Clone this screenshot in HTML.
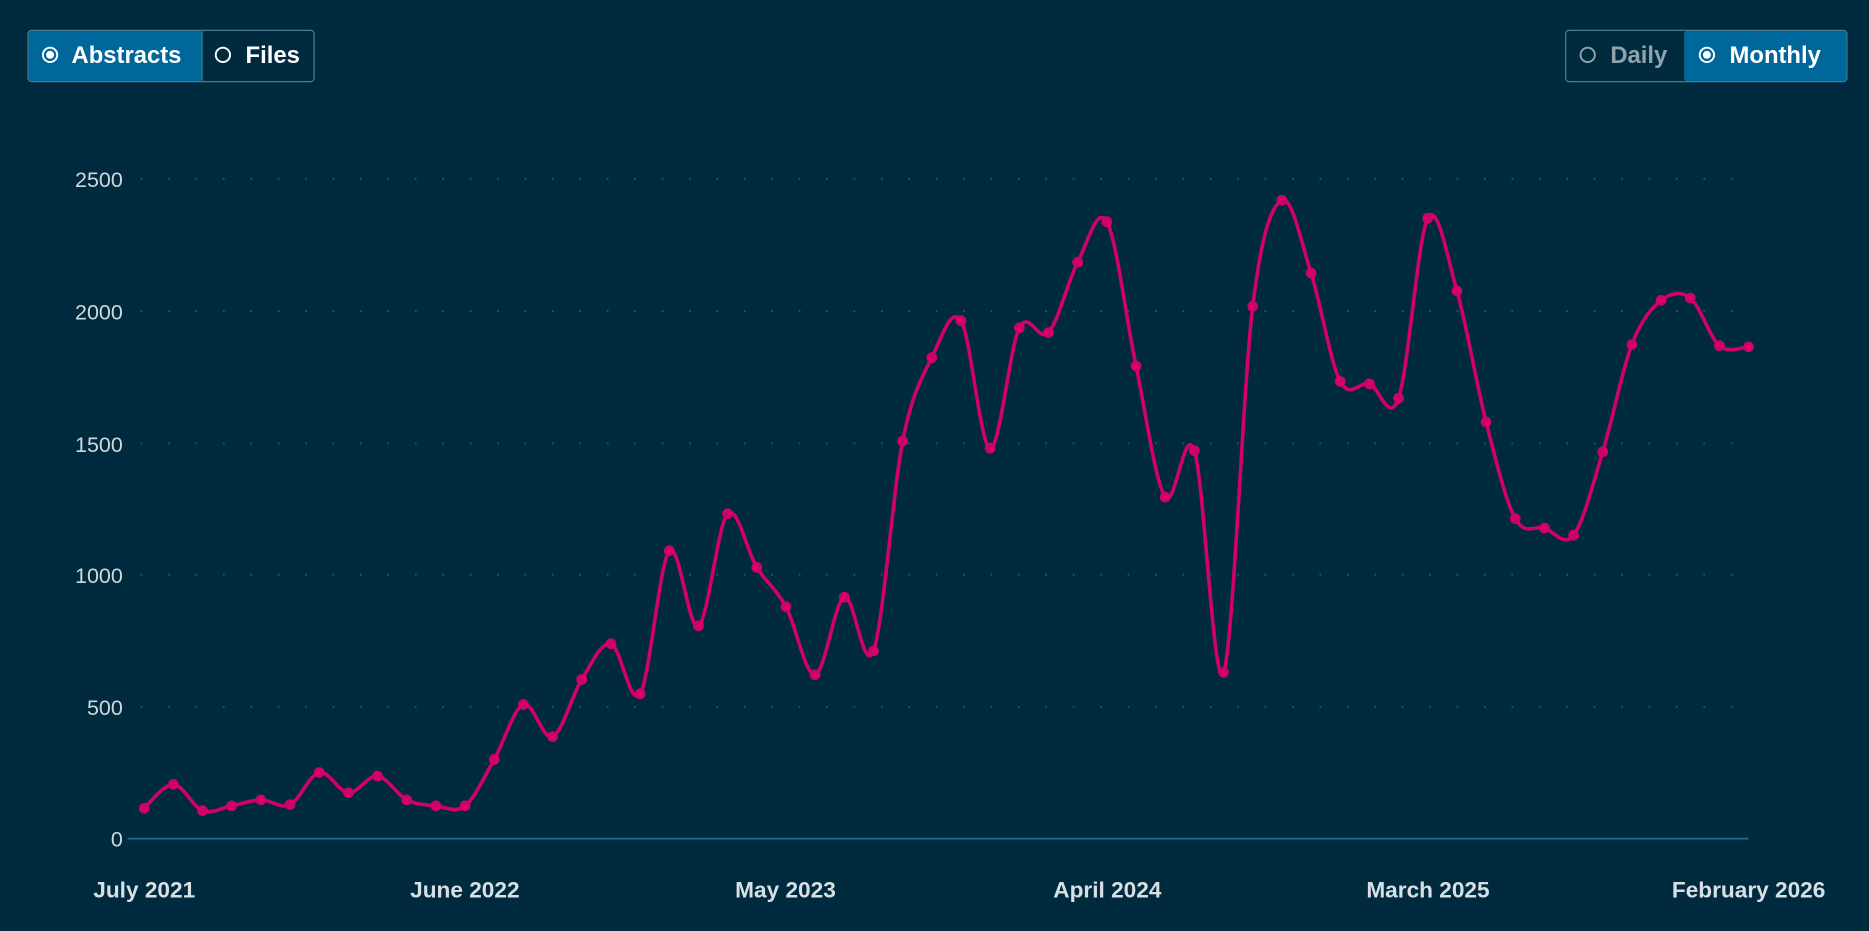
<!DOCTYPE html>
<html><head><meta charset="utf-8"><style>
html,body{margin:0;padding:0;background:#002b3f;width:1869px;height:931px;overflow:hidden}
svg{display:block}
text{font-family:"Liberation Sans",sans-serif}
</style></head><body>
<svg width="1869" height="931" viewBox="0 0 1568 781" preserveAspectRatio="none">
<rect width="1568" height="781" fill="#002b3f"/>
<rect x="23.5" y="25.5" width="240" height="43" rx="3" fill="#002b3f" stroke="#4a7d95" stroke-width="1"/>
<rect x="24" y="26" width="145" height="42" rx="2" fill="#00679a"/>
<line x1="169.5" y1="26" x2="169.5" y2="68" stroke="#4a7d95"/>
<circle cx="42" cy="46" r="6" fill="none" stroke="#fff" stroke-width="1.6"/><circle cx="42" cy="46" r="3.3" fill="#fff"/>
<text x="60" y="53" font-size="20" font-weight="bold" fill="#fff">Abstracts</text>
<circle cx="187" cy="46" r="6" fill="none" stroke="#fff" stroke-width="1.6"/>
<text x="206" y="53" font-size="20" font-weight="bold" fill="#fff">Files</text>
<rect x="1313.5" y="25.5" width="236" height="43" rx="3" fill="#002b3f" stroke="#4a7d95" stroke-width="1"/>
<rect x="1413" y="26" width="136" height="42" rx="2" fill="#00679a"/>
<circle cx="1332" cy="46" r="6" fill="none" stroke="#8fa3ad" stroke-width="1.6"/>
<text x="1351" y="53" font-size="20" font-weight="bold" fill="#8fa3ad">Daily</text>
<circle cx="1432" cy="46" r="6" fill="none" stroke="#fff" stroke-width="1.6"/><circle cx="1432" cy="46" r="3.3" fill="#fff"/>
<text x="1451" y="53" font-size="20" font-weight="bold" fill="#fff">Monthly</text>
<g stroke="#1e5a6a" stroke-width="1.5" stroke-dasharray="1.5 21.5">
<line x1="118" x2="1467" y1="150" y2="150"/><line x1="118" x2="1467" y1="261" y2="261"/><line x1="118" x2="1467" y1="372" y2="372"/><line x1="118" x2="1467" y1="482" y2="482"/><line x1="118" x2="1467" y1="593" y2="593"/>
</g>
<line x1="107" y1="703.5" x2="1467" y2="703.5" stroke="#1f6e9a" stroke-width="1.5"/>
<g font-size="18" fill="#d0d8dc" text-anchor="end">
<text x="103" y="157">2500</text><text x="103" y="268">2000</text><text x="103" y="379">1500</text><text x="103" y="489">1000</text><text x="103" y="600">500</text><text x="103" y="710">0</text>
</g>
<g font-size="19" font-weight="bold" fill="#d8e0e4" text-anchor="middle">
<text x="121" y="753">July 2021</text><text x="390" y="753">June 2022</text><text x="659" y="753">May 2023</text><text x="929" y="753">April 2024</text><text x="1198" y="753">March 2025</text><text x="1467" y="753">February 2026</text>
</g>
<path fill="none" stroke="#d4006a" stroke-width="3" d="M121,678 C125.08,674.67 137.31,657.67 145.47,658
S161.79,677 169.95,680 S186.26,677.5 194.42,676 S210.73,671.17 218.89,671 S235.2,678.83 243.36,675
S259.68,649.67 267.84,648 S284.15,664.5 292.31,665 S308.62,650 316.78,651 S333.09,666.83 341.25,671
S357.57,675.17 365.73,676 S382.04,682.5 390.2,676 S406.51,651.17 414.67,637 S430.99,594.17 439.15,591
S455.46,621.5 463.62,618 S479.93,583 488.09,570 S504.4,538 512.56,540 S528.88,595 537.04,582
S553.35,471.5 561.51,462 S577.82,530.17 585.98,525 S602.29,439.17 610.45,431 S626.77,463 634.93,476
S651.24,494 659.4,509 S675.71,567.33 683.87,566 S700.19,504.33 708.35,501 S724.66,567.83 732.82,546
S749.13,411 757.29,370 S773.6,316.83 781.76,300 S798.08,256.33 806.24,269 S822.55,375 830.71,376
S847.02,291.17 855.18,275 S871.49,288.17 879.65,279 S895.97,235.5 904.13,220 S920.44,171.5 928.6,186
S944.91,268.5 953.07,307 S969.39,405.17 977.55,417 S993.86,353.5 1002.02,378 S1018.33,584.17 1026.49,564
S1042.8,323 1050.96,257 S1067.28,172.67 1075.44,168 S1091.75,203.67 1099.91,229 S1116.22,304.5 1124.38,320
S1140.69,319.67 1148.85,322 S1165.17,357.17 1173.33,334 S1189.64,198 1197.8,183 S1214.11,215.5 1222.27,244
S1238.59,322.17 1246.75,354 S1263.06,420.17 1271.22,435 S1287.53,440.67 1295.69,443 S1312,459.67 1320.16,449
S1336.48,405.67 1344.64,379 S1360.95,310.17 1369.11,289 S1385.42,258.5 1393.58,252 S1409.89,243.67 1418.05,250
S1434.37,283.17 1442.53,290 S1462.92,290.83 1467,291"/>
<g fill="#d4006a">
<circle cx="121" cy="678" r="4.5"/><circle cx="145.47" cy="658" r="4.5"/><circle cx="169.95" cy="680" r="4.5"/><circle cx="194.42" cy="676" r="4.5"/><circle cx="218.89" cy="671" r="4.5"/><circle cx="243.36" cy="675" r="4.5"/><circle cx="267.84" cy="648" r="4.5"/><circle cx="292.31" cy="665" r="4.5"/><circle cx="316.78" cy="651" r="4.5"/><circle cx="341.25" cy="671" r="4.5"/><circle cx="365.73" cy="676" r="4.5"/><circle cx="390.2" cy="676" r="4.5"/><circle cx="414.67" cy="637" r="4.5"/><circle cx="439.15" cy="591" r="4.5"/><circle cx="463.62" cy="618" r="4.5"/><circle cx="488.09" cy="570" r="4.5"/><circle cx="512.56" cy="540" r="4.5"/><circle cx="537.04" cy="582" r="4.5"/><circle cx="561.51" cy="462" r="4.5"/><circle cx="585.98" cy="525" r="4.5"/><circle cx="610.45" cy="431" r="4.5"/><circle cx="634.93" cy="476" r="4.5"/><circle cx="659.4" cy="509" r="4.5"/><circle cx="683.87" cy="566" r="4.5"/><circle cx="708.35" cy="501" r="4.5"/><circle cx="732.82" cy="546" r="4.5"/><circle cx="757.29" cy="370" r="4.5"/><circle cx="781.76" cy="300" r="4.5"/><circle cx="806.24" cy="269" r="4.5"/><circle cx="830.71" cy="376" r="4.5"/><circle cx="855.18" cy="275" r="4.5"/><circle cx="879.65" cy="279" r="4.5"/><circle cx="904.13" cy="220" r="4.5"/><circle cx="928.6" cy="186" r="4.5"/><circle cx="953.07" cy="307" r="4.5"/><circle cx="977.55" cy="417" r="4.5"/><circle cx="1002.02" cy="378" r="4.5"/><circle cx="1026.49" cy="564" r="4.5"/><circle cx="1050.96" cy="257" r="4.5"/><circle cx="1075.44" cy="168" r="4.5"/><circle cx="1099.91" cy="229" r="4.5"/><circle cx="1124.38" cy="320" r="4.5"/><circle cx="1148.85" cy="322" r="4.5"/><circle cx="1173.33" cy="334" r="4.5"/><circle cx="1197.8" cy="183" r="4.5"/><circle cx="1222.27" cy="244" r="4.5"/><circle cx="1246.75" cy="354" r="4.5"/><circle cx="1271.22" cy="435" r="4.5"/><circle cx="1295.69" cy="443" r="4.5"/><circle cx="1320.16" cy="449" r="4.5"/><circle cx="1344.64" cy="379" r="4.5"/><circle cx="1369.11" cy="289" r="4.5"/><circle cx="1393.58" cy="252" r="4.5"/><circle cx="1418.05" cy="250" r="4.5"/><circle cx="1442.53" cy="290" r="4.5"/><circle cx="1467" cy="291" r="4.5"/>
</g>
</svg>
</body></html>
